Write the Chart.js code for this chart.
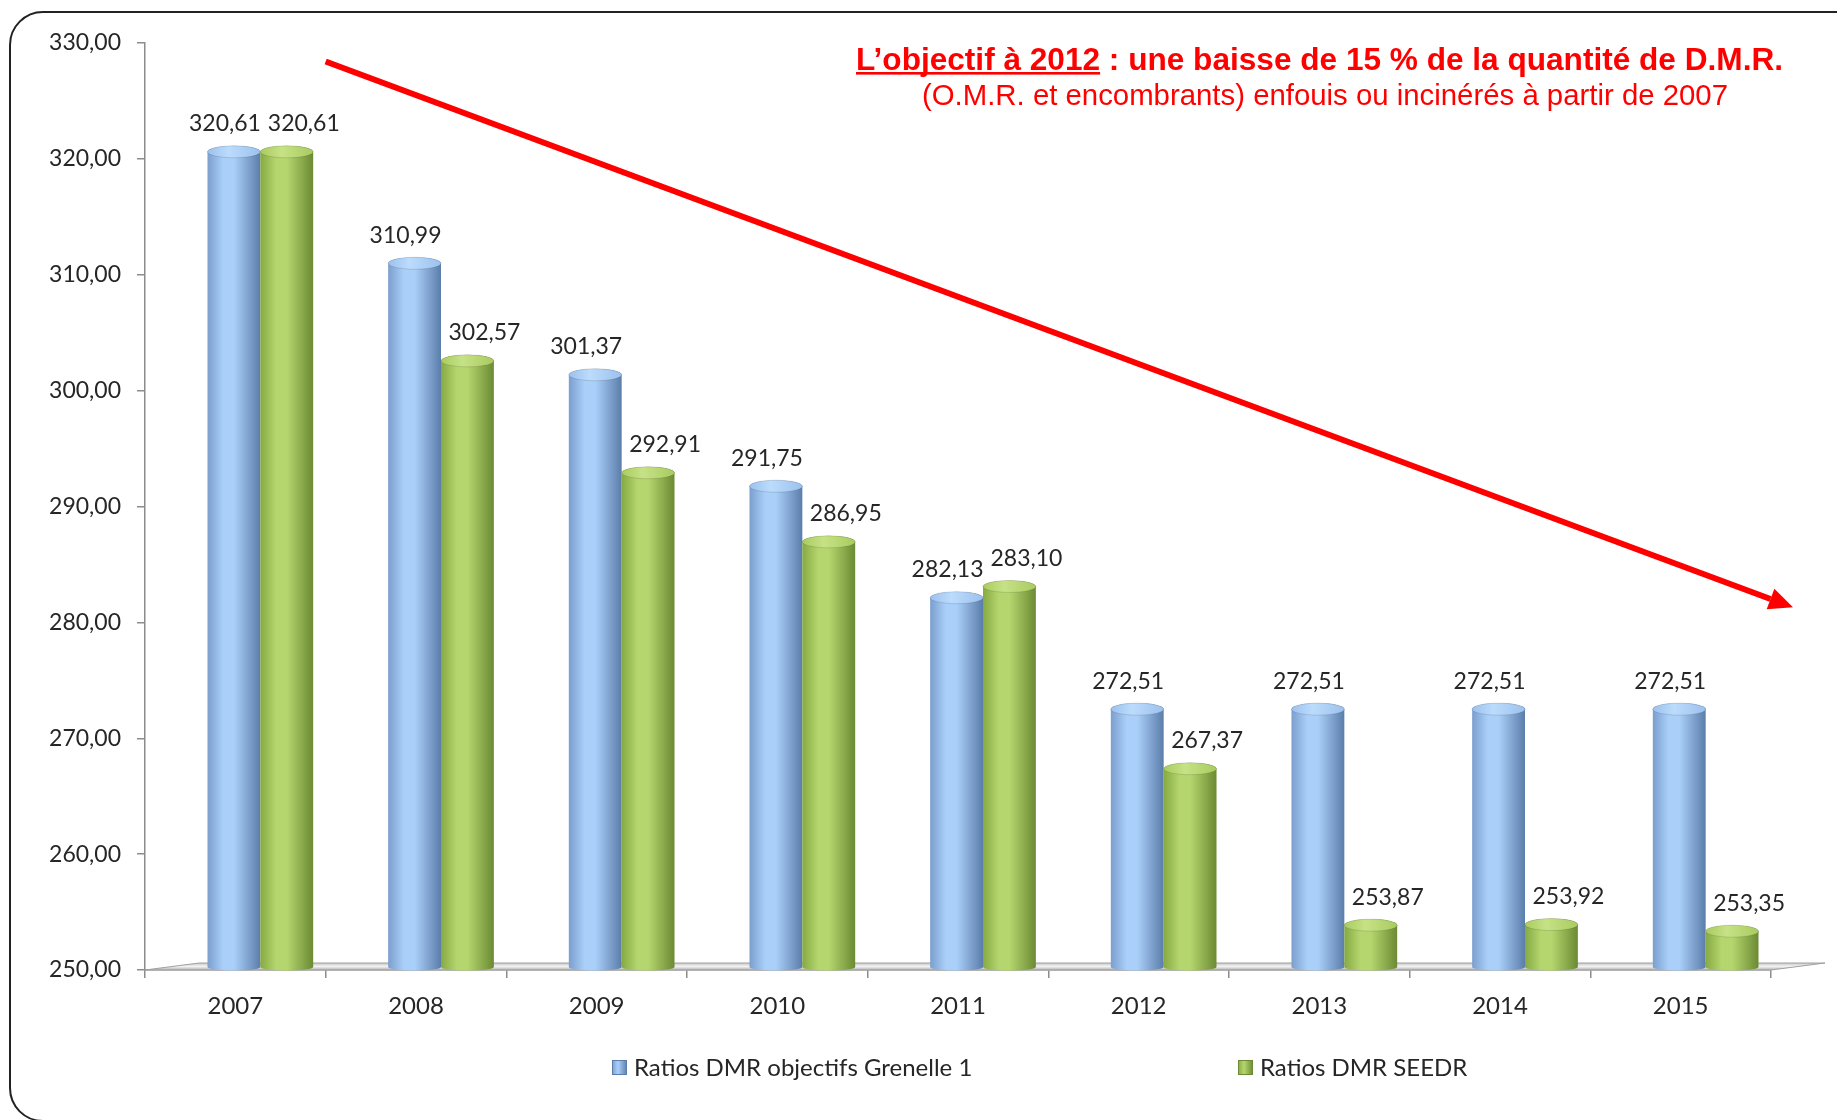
<!DOCTYPE html>
<html>
<head>
<meta charset="utf-8">
<script src="https://cdn.jsdelivr.net/npm/chart.js@4.4.1/dist/chart.umd.min.js"></script>
<style>
  html, body { margin: 0; padding: 0; background: #fff; overflow: hidden; }
  #wrap { position: relative; width: 1837px; height: 1120px; }
  #frame { position: absolute; left: 9px; top: 11px; width: 1900px; height: 1111px;
           border: 2.5px solid #222; border-radius: 34px; box-sizing: border-box; pointer-events: none; }
  canvas { position: absolute; left: 0; top: 0; }
</style>
</head>
<body>
<div id="wrap">
  <canvas id="c" width="1837" height="1120"></canvas>
  <div id="frame"></div>
</div>
<script>
// ── données ──────────────────────────────────────────
const years    = ['2007', '2008', '2009', '2010', '2011', '2012', '2013', '2014', '2015'];
const grenelle = [320.61, 310.99, 301.37, 291.75, 282.13, 272.51, 272.51, 272.51, 272.51];
const seedr    = [320.61, 302.57, 292.91, 286.95, 283.10, 267.37, 253.87, 253.92, 253.35];
const seriesNames = ['Ratios DMR objectifs Grenelle 1', 'Ratios DMR SEEDR'];
const yMin = 250, yMax = 330, yStep = 10;

const FONT = 'Lato, "Open Sans", sans-serif';
const TXT  = '#262626';
const SHIFT = 25;            // décalage perspective 3D des cylindres
const LABEL_DX = [-9, 17];   // placement des étiquettes style Excel

const FILLS = [
  { l: '#7b9ece', hi: '#aad0f9', r: '#5b7daa', cap: '#9cc1ee', capHi: '#bcdcfc' },
  { l: '#86a943', hi: '#b5d66e', r: '#6b8a33', cap: '#a9cb5f', capHi: '#c6e286' }
];

const fmt = v => v.toFixed(2).replace('.', ',');

function drawCylinder(ctx, bar, base, f) {
  const w = bar.width, cx = bar.x, x0 = cx - w / 2, x1 = cx + w / 2;
  const top = bar.y;
  const ry = Math.min(6, w * 0.12);

  const g = ctx.createLinearGradient(x0, 0, x1, 0);
  g.addColorStop(0, f.l);
  g.addColorStop(0.3, f.hi);
  g.addColorStop(0.5, f.hi);
  g.addColorStop(1, f.r);

  ctx.beginPath();
  ctx.moveTo(x0, top);
  ctx.lineTo(x0, base);
  ctx.ellipse(cx, base, w / 2, ry * 0.6, 0, Math.PI, 0, true);
  ctx.lineTo(x1, top);
  ctx.ellipse(cx, top, w / 2, ry, 0, 0, Math.PI, true);
  ctx.closePath();
  ctx.fillStyle = g;
  ctx.fill();

  const gc = ctx.createLinearGradient(x0, 0, x1, 0);
  gc.addColorStop(0, f.cap);
  gc.addColorStop(0.4, f.capHi);
  gc.addColorStop(1, f.cap);
  ctx.beginPath();
  ctx.ellipse(cx, top, w / 2, ry, 0, 0, Math.PI * 2);
  ctx.fillStyle = gc;
  ctx.fill();
  ctx.strokeStyle = 'rgba(0,0,0,0.12)';
  ctx.lineWidth = 1;
  ctx.stroke();
}

// ── plugin : sol 3D + cylindres + étiquettes ───────────
const cylinderPlugin = {
  id: 'cylinders',
  beforeDatasetsDraw(chart) {
    const { ctx, chartArea, scales } = chart;
    const yb = scales.y.getPixelForValue(yMin);
    ctx.save();
    ctx.beginPath();
    ctx.moveTo(chartArea.left, yb);
    ctx.lineTo(chartArea.right, yb);
    ctx.lineTo(chartArea.right + 54, yb - 7);
    ctx.lineTo(chartArea.left + 54, yb - 7);
    ctx.closePath();
    const g = ctx.createLinearGradient(0, yb - 7, 0, yb);
    g.addColorStop(0, '#c8c8c8');
    g.addColorStop(0.5, '#f2f2f2');
    g.addColorStop(1, '#b0b0b0');
    ctx.fillStyle = g;
    ctx.fill();
    ctx.strokeStyle = '#a0a0a0';
    ctx.lineWidth = 1;
    ctx.stroke();
    ctx.restore();
  },
  afterDatasetsDraw(chart) {
    const { ctx, scales } = chart;
    const base = scales.y.getPixelForValue(yMin) - 3;
    ctx.save();
    ctx.translate(SHIFT, 0);
    chart.data.datasets.forEach((ds, di) => {
      const meta = chart.getDatasetMeta(di);
      meta.data.forEach(bar => drawCylinder(ctx, bar, base, FILLS[di]));
    });
    ctx.font = '23px ' + FONT;
    ctx.fillStyle = TXT;
    ctx.textAlign = 'center';
    ctx.textBaseline = 'middle';
    chart.data.datasets.forEach((ds, di) => {
      const meta = chart.getDatasetMeta(di);
      meta.data.forEach((bar, i) => {
        ctx.fillText(fmt(ds.data[i]), bar.x + LABEL_DX[di], bar.y - 28);
      });
    });
    ctx.restore();
  },
  afterDraw(chart) {
    const { ctx, chartArea, scales } = chart;
    ctx.save();

    // flèche rouge
    const catW = (chartArea.right - chartArea.left) / years.length;
    const x0 = chartArea.left + catW, y0 = scales.y.getPixelForValue(328.4);
    const x1 = chartArea.right + 22, y1 = scales.y.getPixelForValue(281.3);
    const ang = Math.atan2(y1 - y0, x1 - x0);
    const hl = 24, hw = 11;
    const bx = x1 - hl * Math.cos(ang), by = y1 - hl * Math.sin(ang);
    ctx.strokeStyle = '#ff0000';
    ctx.fillStyle = '#ff0000';
    ctx.lineWidth = 6;
    ctx.beginPath();
    ctx.moveTo(x0, y0);
    ctx.lineTo(bx, by);
    ctx.stroke();
    ctx.beginPath();
    ctx.moveTo(x1, y1);
    ctx.lineTo(bx + hw * Math.sin(ang), by - hw * Math.cos(ang));
    ctx.lineTo(bx - hw * Math.sin(ang), by + hw * Math.cos(ang));
    ctx.closePath();
    ctx.fill();

    // titre (2 lignes, condensé)
    const p1 = 'L\u2019objectif \u00e0 2012';
    const p2 = ' : une baisse de 15 % de la quantit\u00e9 de D.M.R.';
    ctx.font = 'bold 31px "Liberation Sans", Arial, sans-serif';
    ctx.textAlign = 'left';
    ctx.textBaseline = 'alphabetic';
    const w1 = ctx.measureText(p1).width, wAll = ctx.measureText(p1 + p2).width;
    const sx1 = 927 / wAll;
    ctx.save();
    ctx.translate(856, 70);
    ctx.scale(sx1, 1);
    ctx.fillText(p1 + p2, 0, 0);
    ctx.fillRect(0, 2, w1, 2.6);
    ctx.restore();

    const l2 = '(O.M.R. et encombrants) enfouis ou incin\u00e9r\u00e9s \u00e0 partir de 2007';
    ctx.font = '30px "Liberation Sans", Arial, sans-serif';
    const w2 = ctx.measureText(l2).width;
    ctx.save();
    ctx.translate(922, 105);
    ctx.scale(806 / w2, 1);
    ctx.fillText(l2, 0, 0);
    ctx.restore();

    // légende
    const legend = [{ x: 612 }, { x: 1238 }];
    ctx.font = '24px ' + FONT;
    ctx.textBaseline = 'middle';
    legend.forEach((it, i) => {
      const f = FILLS[i];
      const g = ctx.createLinearGradient(it.x, 0, it.x + 15, 0);
      g.addColorStop(0, f.l); g.addColorStop(0.4, f.hi); g.addColorStop(1, f.r);
      ctx.fillStyle = g;
      ctx.fillRect(it.x, 1060, 15, 15);
      ctx.strokeStyle = f.r;
      ctx.lineWidth = 1;
      ctx.strokeRect(it.x + 0.5, 1060.5, 14, 14);
      ctx.fillStyle = TXT;
      ctx.fillText(chart.data.datasets[i].label, it.x + 22, 1068);
    });
    ctx.restore();
  }
};

new Chart(document.getElementById('c'), {
  type: 'bar',
  data: {
    labels: years,
    datasets: [
      { label: seriesNames[0], data: grenelle, base: yMin, backgroundColor: 'rgba(0,0,0,0)', borderWidth: 0 },
      { label: seriesNames[1], data: seedr,    base: yMin, backgroundColor: 'rgba(0,0,0,0)', borderWidth: 0 }
    ]
  },
  options: {
    responsive: false,
    animation: false,
    layout: { padding: { top: 43, right: 66, left: 0, bottom: 0 } },
    datasets: { bar: { categoryPercentage: 0.585, barPercentage: 1 } },
    plugins: { legend: { display: false }, tooltip: { enabled: false }, title: { display: false } },
    scales: {
      x: {
        offset: true,
        grid: { offset: true, drawOnChartArea: false, tickLength: 8, color: '#8c8c8c', lineWidth: 1.5 },
        border: { color: '#8c8c8c', width: 1.5 },
        ticks: { color: TXT, font: { family: FONT, size: 24 }, padding: 14 },
        afterFit: s => { s.height = 150; }
      },
      y: {
        min: yMin, max: yMax,
        grid: { drawOnChartArea: false, tickLength: 8, color: '#8c8c8c', lineWidth: 1.5 },
        border: { color: '#8c8c8c', width: 1.5 },
        ticks: { stepSize: yStep, color: TXT, font: { family: FONT, size: 23 }, padding: 16, callback: v => fmt(v) },
        afterFit: s => { s.width = 145; }
      }
    }
  },
  plugins: [cylinderPlugin]
});
</script>
</body>
</html>
